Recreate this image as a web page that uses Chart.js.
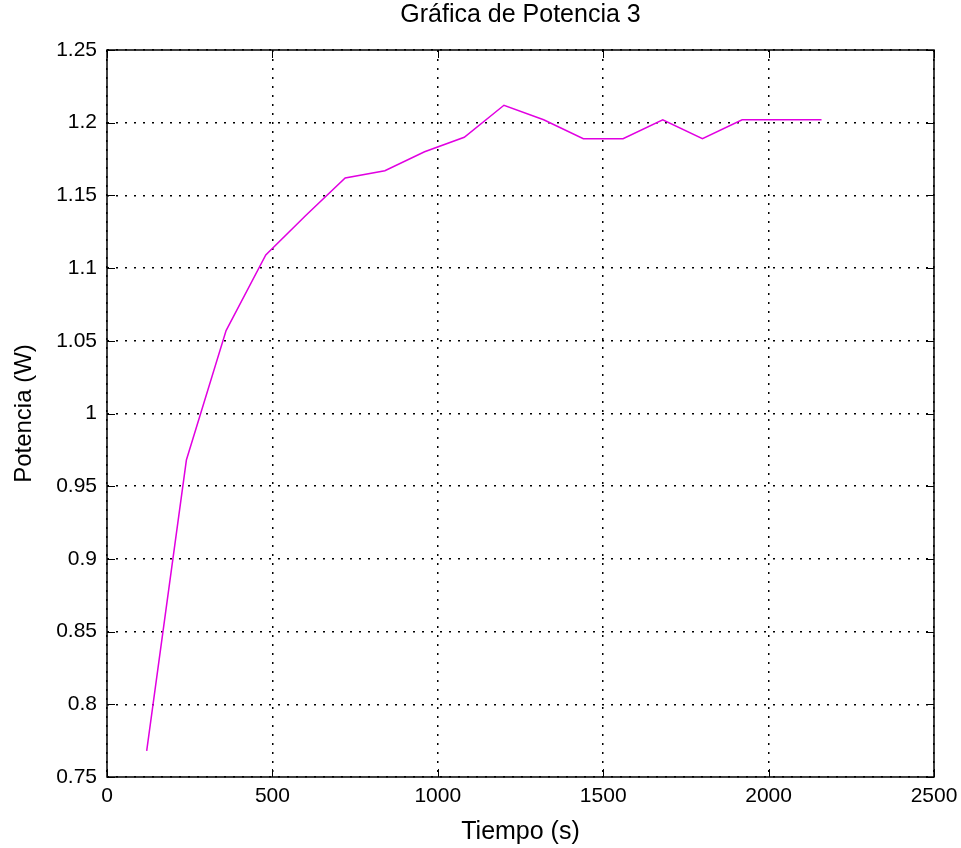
<!DOCTYPE html>
<html>
<head>
<meta charset="utf-8">
<script src="https://cdn.jsdelivr.net/npm/chart.js@4/dist/chart.umd.min.js"></script>
<style>
  html, body { margin: 0; padding: 0; background: #fff; }
  #wrap { width: 961px; height: 848px; position: relative; }
</style>
</head>
<body>
<div id="wrap"><canvas id="c"></canvas></div>
<script>
// ---- data ----
const tiempo = [120, 240, 360, 480, 600, 720, 840, 960, 1080, 1200, 1320, 1440, 1560, 1680, 1800, 1920, 2040, 2160];
const potencia = [0.768, 0.968, 1.057, 1.109, 1.136, 1.162, 1.167, 1.180, 1.190, 1.212, 1.202, 1.189, 1.189, 1.202, 1.189, 1.202, 1.202, 1.202];
const xTickValues = [0, 500, 1000, 1500, 2000, 2500];
const yTickValues = [0.75, 0.8, 0.85, 0.9, 0.95, 1, 1.05, 1.1, 1.15, 1.2, 1.25];
const chartTitle = 'Gráfica de Potencia 3';
const xTitle = 'Tiempo (s)';
const yTitle = 'Potencia (W)';

const FONT = 'Liberation Sans, Arial, sans-serif';

const boxPlugin = {
  id: 'matlabBox',
  afterDatasetsDraw(chart) {
    const {ctx, chartArea: a, scales} = chart;
    ctx.save();
    ctx.strokeStyle = '#000';
    ctx.lineWidth = 1;
    ctx.setLineDash([]);
    const L = 8;
    ctx.beginPath();
    xTickValues.forEach(v => {
      const px = Math.round(scales.x.getPixelForValue(v)) + 0.5;
      ctx.moveTo(px, a.bottom); ctx.lineTo(px, a.bottom - L);
      ctx.moveTo(px, a.top); ctx.lineTo(px, a.top + L);
    });
    yTickValues.forEach(v => {
      const py = Math.round(scales.y.getPixelForValue(v)) + 0.5;
      ctx.moveTo(a.left, py); ctx.lineTo(a.left + L, py);
      ctx.moveTo(a.right, py); ctx.lineTo(a.right - L, py);
    });
    ctx.stroke();
    ctx.lineWidth = 1.5;
    ctx.strokeRect(a.left, a.top, a.right - a.left, a.bottom - a.top);
    ctx.restore();
  }
};

new Chart(document.getElementById('c'), {
  type: 'line',
  data: {
    datasets: [{
      data: tiempo.map((t, i) => ({x: t, y: potencia[i]})),
      borderColor: 'rgb(225,0,225)',
      borderWidth: 1.5,
      pointRadius: 0,
      tension: 0,
      fill: false
    }]
  },
  options: {
    responsive: true,
    maintainAspectRatio: false,
    animation: false,
    devicePixelRatio: 1,
    layout: { padding: { left: 0, right: 27, top: 0, bottom: 0 } },
    plugins: {
      legend: { display: false },
      tooltip: { enabled: false },
      title: {
        display: true,
        text: chartTitle,
        fullSize: false,
        color: '#000',
        font: { family: FONT, size: 25, weight: 'normal' },
        padding: { top: 0, bottom: 20 }
      }
    },
    scales: {
      x: {
        type: 'linear',
        min: 0, max: 2500,
        afterBuildTicks(s) { s.ticks = xTickValues.map(v => ({value: v})); },
        afterFit(s) { s.height = 71; s.paddingLeft = 0; s.paddingRight = 0; },
        ticks: {
          color: '#000',
          font: { family: FONT, size: 21 },
          padding: 7,
          maxRotation: 0,
          callback: v => String(v)
        },
        grid: { color: '#000', lineWidth: 1.5, drawTicks: false },
        border: { display: false, dash: [2, 7] },
        title: {
          display: true, text: xTitle, color: '#000',
          font: { family: FONT, size: 25 },
          padding: { top: 0, bottom: 1 }
        }
      },
      y: {
        type: 'linear',
        min: 0.75, max: 1.25,
        afterBuildTicks(s) { s.ticks = yTickValues.map(v => ({value: v})); },
        afterFit(s) { s.width = 107; s.paddingTop = 0; s.paddingBottom = 0; },
        ticks: {
          color: '#000',
          font: { family: FONT, size: 21 },
          padding: 10,
          callback: v => String(Number(v.toFixed(2)))
        },
        grid: { color: '#000', lineWidth: 1.5, drawTicks: false },
        border: { display: false, dash: [2, 7] },
        title: {
          display: true, text: yTitle, color: '#000',
          font: { family: FONT, size: 24 },
          padding: { top: 9.6, bottom: 0 }
        }
      }
    }
  },
  plugins: [boxPlugin]
});
</script>
</body>
</html>
